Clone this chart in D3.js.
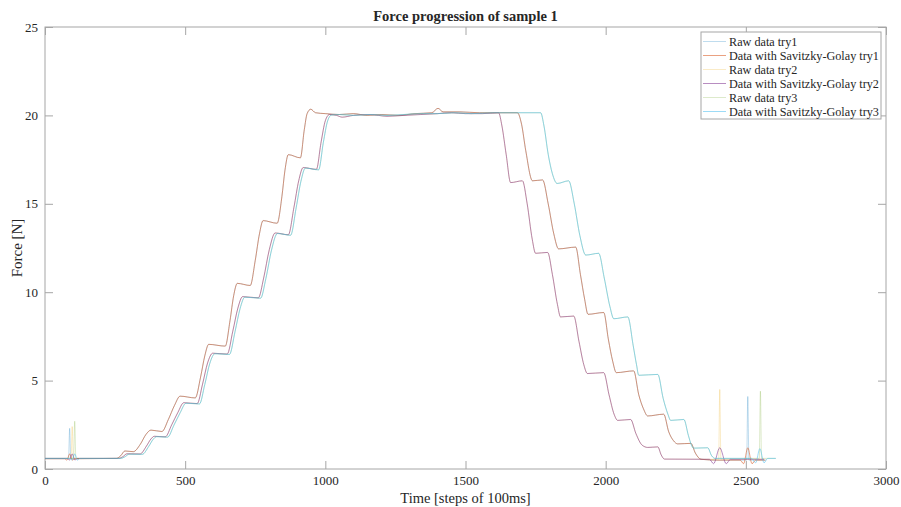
<!DOCTYPE html>
<meta charset="utf-8">
<style>
  body { margin: 0; background: #fff; }
  text { font-family: "Liberation Serif", "Times New Roman", serif; fill: #262626; }
  .axis path, .axis line { stroke: #a6a6a6; }
  .axis text { font-size: 13px; fill: #262626; }
  .raw { fill: none; stroke-width: 1; opacity: 0.25; }
  .sg { fill: none; stroke-width: 1; opacity: 0.55; }
</style>
<svg width="901" height="507"></svg>
<script src="https://d3js.org/d3.v7.min.js"></script>
<script>

// tick labels
var xTicks = [0, 500, 1000, 1500, 2000, 2500, 3000],
    yTicks = [0, 5, 10, 15, 20, 25];

// try 1 : smooth shape, spikes in the raw signal, bumps left by the filter
var base1 = [[0,0.58],[60,0.58],[255,0.6],[270,0.75],[285,1.02],[315,0.98],[340,1.4],[360,1.95],[378,2.2],[417,2.12],
  [440,2.8],[462,3.6],[482,4.12],[536,4.02],[555,5.2],[570,6.4],[584,7.05],[643,6.95],[660,8.4],[673,9.8],[686,10.5],
  [732,10.38],[750,11.8],[765,13.3],[778,14.05],[828,13.9],[845,15.4],[856,16.9],[868,17.78],[911,17.6],[925,19.2],
  [935,20.1],[948,20.35],[965,20.15],[1000,20.1],[1050,20.05],[1100,20.1],[1150,20.0],[1200,20.05],[1260,20.0],
  [1320,20.1],[1380,20.15],[1402,20.4],[1420,20.2],[1480,20.2],[1550,20.15],[1620,20.15],[1685,20.15],[1700,19.5],
  [1715,18.0],[1739,16.3],[1775,16.35],[1795,15.0],[1815,13.3],[1832,12.45],[1893,12.55],[1910,11.0],[1925,9.6],
  [1937,8.75],[1993,8.85],[2010,7.3],[2025,6.1],[2038,5.45],[2100,5.55],[2118,4.2],[2135,3.4],[2150,3.0],[2207,3.1],
  [2225,2.1],[2242,1.6],[2257,1.42],[2304,1.45],[2320,0.9],[2340,0.55],[2400,0.5],[2480,0.5],[2570,0.5]];
var spikes1 = [[84,0.58],[88,2.3],[92,0.58],[2503,0.5],[2507,4.1],[2511,0.5]];
var bumps1 = [[70,0.58],[78,0.5],[88,0.85],[98,0.5],[106,0.58],[2492,0.3],[2507,1.2],[2522,0.3],[2535,0.5]];

// try 2
var base2 = [[0,0.6],[60,0.6],[262,0.6],[278,0.7],[292,0.86],[339,0.85],[362,1.3],[378,1.7],[390,1.85],[429,1.82],
  [452,2.5],[474,3.2],[495,3.75],[543,3.7],[562,4.8],[580,6.0],[598,6.55],[650,6.5],[670,7.8],[688,9.1],[705,9.75],
  [761,9.68],[780,10.8],[800,12.4],[821,13.35],[868,13.25],[888,14.8],[905,16.3],[921,17.05],[968,16.95],[985,18.5],
  [1000,19.7],[1015,20.05],[1040,20.0],[1060,19.9],[1100,20.0],[1160,20.05],[1220,19.95],[1280,20.0],[1340,20.05],
  [1400,20.1],[1450,20.15],[1500,20.1],[1560,20.1],[1618,20.15],[1630,19.4],[1645,17.8],[1661,16.2],[1703,16.3],
  [1720,15.0],[1738,13.0],[1750,12.2],[1793,12.25],[1810,11.0],[1828,9.3],[1839,8.6],[1886,8.65],[1905,7.2],
  [1922,5.9],[1935,5.4],[1993,5.45],[2012,4.2],[2030,3.1],[2043,2.75],[2089,2.8],[2108,2.0],[2130,1.35],[2150,1.22],
  [2186,1.25],[2198,0.8],[2210,0.56],[2370,0.55],[2445,0.55],[2565,0.55]];
var spikes2 = [[93,0.6],[97,2.4],[101,0.6],[2403,0.55],[2407,4.5],[2411,0.55]];
var bumps2 = [[80,0.6],[87,0.5],[97,0.85],[107,0.5],[115,0.6],[2385,0.3],[2407,1.2],[2430,0.3]];

// try 3
var base3 = [[0,0.6],[60,0.6],[270,0.6],[286,0.7],[300,0.84],[347,0.83],[370,1.28],[386,1.68],[398,1.83],[437,1.8],
  [460,2.48],[482,3.18],[503,3.72],[551,3.68],[570,4.78],[588,5.98],[606,6.52],[658,6.48],[678,7.78],[696,9.08],
  [713,9.72],[769,9.66],[788,10.78],[808,12.38],[829,13.32],[876,13.22],[896,14.78],[913,16.28],[929,17.02],
  [976,16.92],[993,18.48],[1008,19.68],[1022,20.02],[1050,20.05],[1100,20.0],[1160,20.05],[1220,20.0],[1280,20.05],
  [1340,20.1],[1400,20.1],[1460,20.15],[1520,20.1],[1600,20.15],[1680,20.15],[1768,20.15],[1780,19.4],[1795,17.8],
  [1810,16.7],[1827,16.15],[1868,16.3],[1888,15.0],[1908,13.2],[1929,12.1],[1975,12.2],[1995,10.8],[2015,9.2],
  [2029,8.5],[2079,8.6],[2098,7.0],[2110,5.9],[2118,5.3],[2186,5.35],[2205,4.0],[2222,3.1],[2232,2.75],[2279,2.8],
  [2295,1.9],[2306,1.35],[2314,1.18],[2364,1.2],[2378,0.75],[2390,0.6],[2520,0.6],[2607,0.6]];
var spikes3 = [[102,0.6],[106,2.7],[110,0.6],[2548,0.6],[2552,4.4],[2556,0.6]];
var bumps3 = [[90,0.6],[96,0.5],[106,0.85],[116,0.5],[124,0.6],[2535,0.35],[2550,1.15],[2565,0.35],[2578,0.6]];

var rawColors = ["#0072BD", "#EDB120", "#77AC30"],
    sgColors = ["#D95319", "#7E2F8E", "#4DBEEE"],
    rawNames = ["Raw data try1", "Raw data try2", "Raw data try3"],
    sgNames = ["Data with Savitzky-Golay try1", "Data with Savitzky-Golay try2", "Data with Savitzky-Golay try3"];

function merge(a, b) {
    return a.concat(b).sort(function (p, q) { return p[0] - q[0]; });
}

var tries = [[base1, spikes1, bumps1], [base2, spikes2, bumps2], [base3, spikes3, bumps3]];
var series = [];
tries.forEach(function (t, i) {
    series.push({ name: rawNames[i], color: rawColors[i], cls: "raw", pts: merge(t[0], t[1]) });
    series.push({ name: sgNames[i], color: sgColors[i], cls: "sg", pts: merge(t[0], t[2]) });
});

var svg = d3.select("svg"),
    margin = { top: 27, right: 15, bottom: 38, left: 45 },
    width = +svg.attr("width") - margin.left - margin.right,
    height = +svg.attr("height") - margin.top - margin.bottom,
    g = svg.append("g").attr("transform", "translate(" + margin.left + "," + margin.top + ")");

var x = d3.scaleLinear().domain([0, 3000]).range([0, width]);
var y = d3.scaleLinear().domain([0, 25]).range([height, 0]);

g.append("defs").append("clipPath").attr("id", "clip")
    .append("rect").attr("width", width).attr("height", height);

g.append("g").attr("class", "axis").attr("transform", "translate(0," + height + ")")
    .call(d3.axisBottom(x).tickValues(xTicks).tickFormat(d3.format("d"))
        .tickSizeInner(-8).tickSizeOuter(0).tickPadding(7));
g.append("g").attr("class", "axis")
    .call(d3.axisTop(x).tickValues(xTicks).tickSizeInner(-8).tickSizeOuter(0).tickFormat(""));
g.append("g").attr("class", "axis")
    .call(d3.axisLeft(y).tickValues(yTicks).tickSizeInner(-8).tickSizeOuter(0).tickPadding(7));
g.append("g").attr("class", "axis").attr("transform", "translate(" + width + ",0)")
    .call(d3.axisRight(y).tickValues(yTicks).tickSizeInner(-8).tickSizeOuter(0).tickFormat(""));
g.selectAll(".axis .domain").remove();

g.append("rect").attr("width", width).attr("height", height)
    .attr("fill", "none").attr("stroke", "#a6a6a6");

var line = d3.line()
    .x(function (d) { return x(d[0]); })
    .y(function (d) { return y(d[1]); })
    .curve(d3.curveMonotoneX);

g.append("g").attr("clip-path", "url(#clip)")
    .selectAll("path").data(series).enter().append("path")
    .attr("class", function (d) { return d.cls; })
    .style("stroke", function (d) { return d.color; })
    .attr("d", function (d) { return line(d.pts); });

// title and axis labels
svg.append("text").attr("x", margin.left + width / 2).attr("y", 21)
    .attr("text-anchor", "middle").style("font-size", "14.5px").style("font-weight", "bold")
    .text("Force progression of sample 1");
svg.append("text").attr("x", margin.left + width / 2).attr("y", 503)
    .attr("text-anchor", "middle").style("font-size", "14.5px")
    .text("Time [steps of 100ms]");
svg.append("text").attr("transform", "translate(22," + (margin.top + height / 2) + ") rotate(-90)")
    .attr("text-anchor", "middle").style("font-size", "15px")
    .text("Force [N]");

// legend
var legend = svg.append("g").attr("transform", "translate(701,32)");
legend.append("rect").attr("width", 180).attr("height", 87)
    .attr("fill", "#fff").attr("stroke", "#a6a6a6");
var item = legend.selectAll(".item").data(series).enter().append("g")
    .attr("transform", function (d, i) { return "translate(0," + (9.5 + i * 14) + ")"; });
item.append("line").attr("x1", 2).attr("x2", 25)
    .attr("class", function (d) { return d.cls; })
    .style("stroke", function (d) { return d.color; });
item.append("text").attr("x", 28).attr("dy", "0.33em").style("font-size", "12.2px")
    .text(function (d) { return d.name; });

</script>
